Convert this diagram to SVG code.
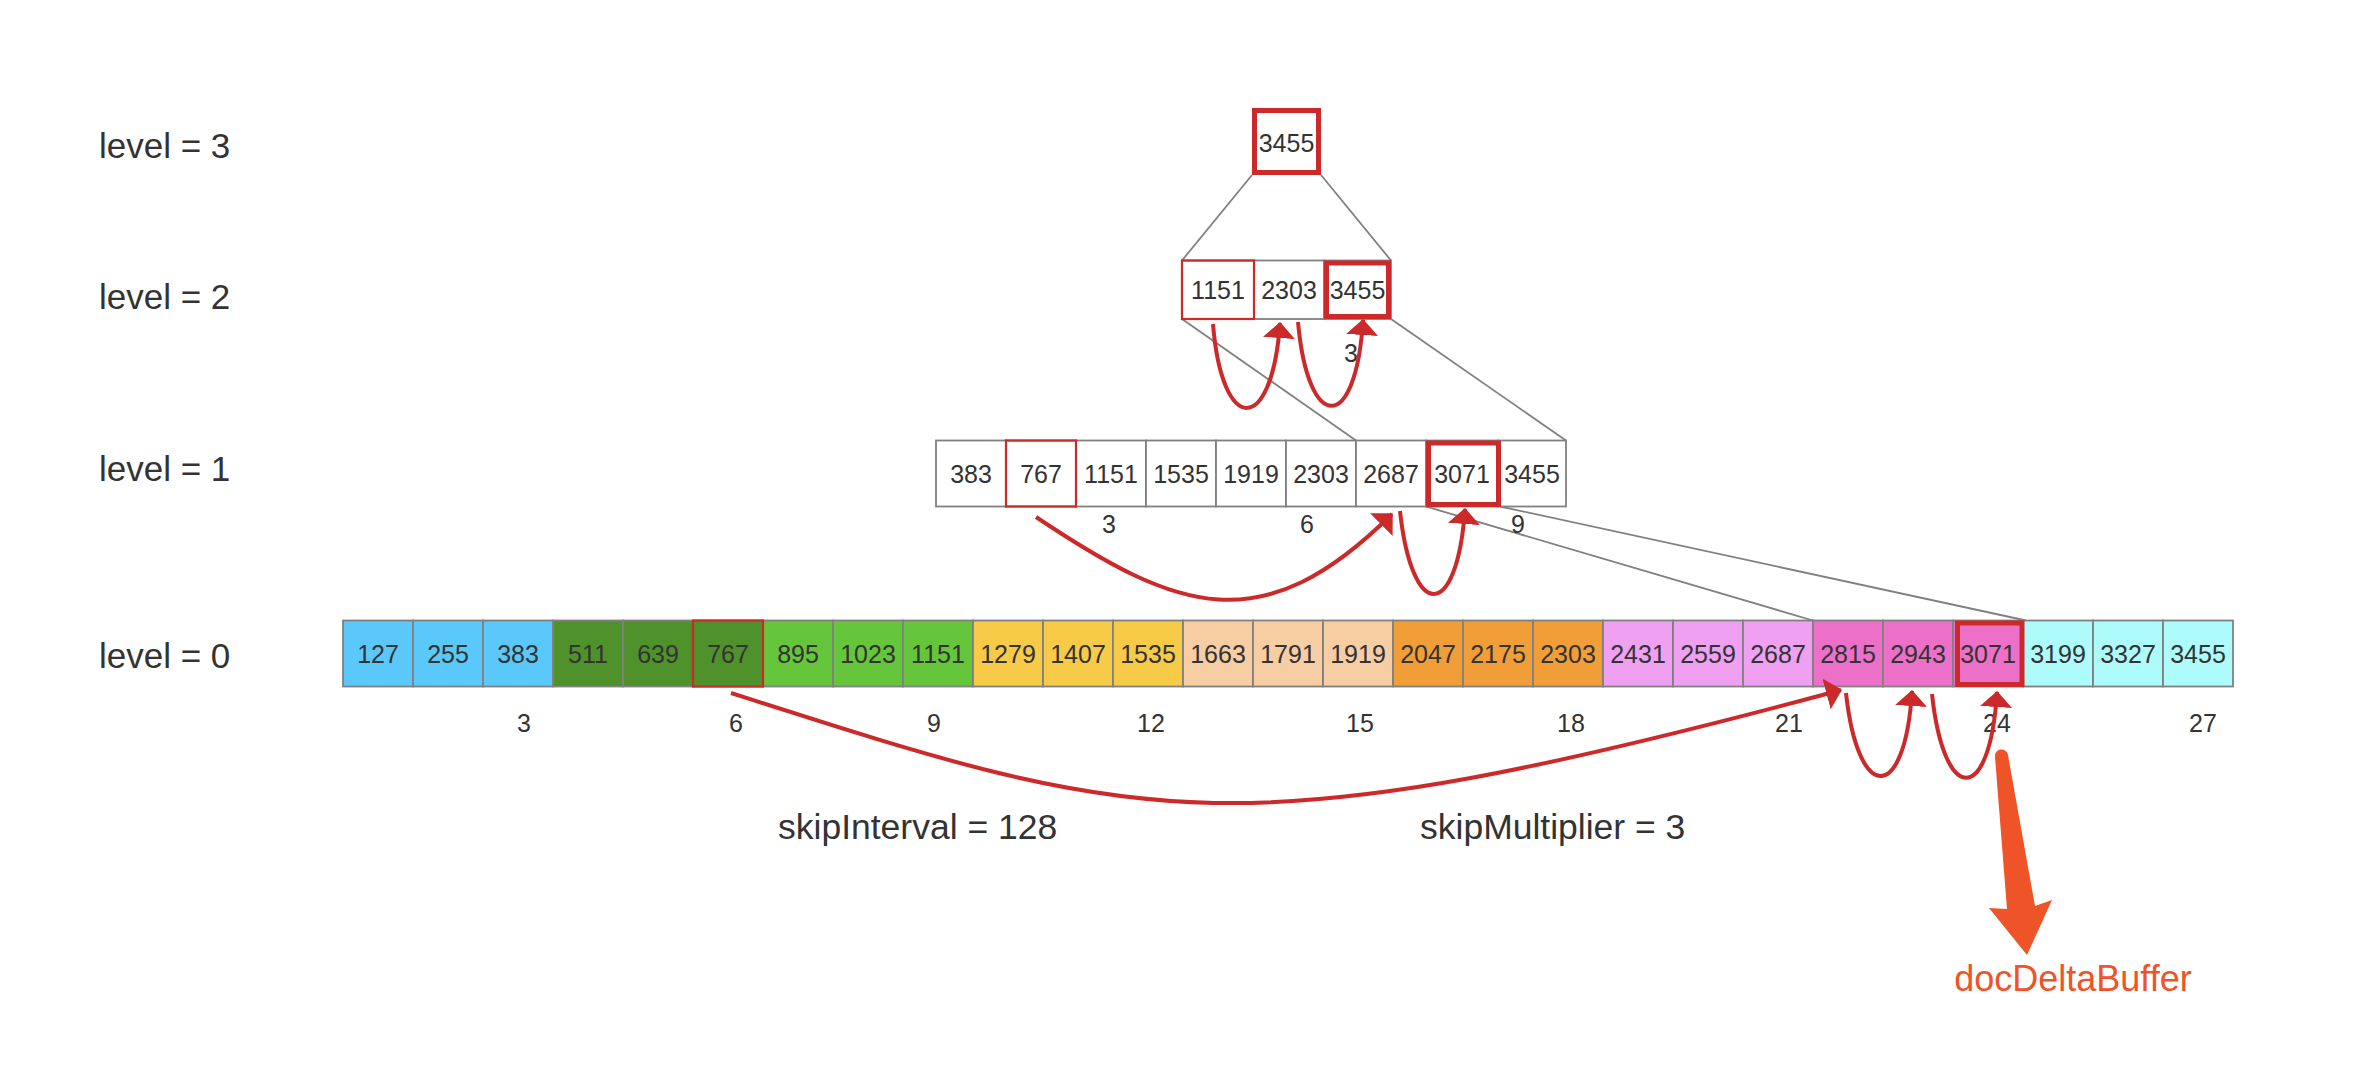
<svg xmlns="http://www.w3.org/2000/svg" width="2358" height="1068" viewBox="0 0 2358 1068">
<defs>
<style>
.t{font-family:"Liberation Sans",Arial,sans-serif;fill:#333333}
.cv{font-size:25px;text-anchor:middle}
.idx{font-size:25px;text-anchor:middle}
.lvl{font-size:35px}
.cap{font-size:35.5px}
.c{stroke:#808080;stroke-width:1.8}
.g{stroke:#808080;stroke-width:1.8;fill:none}
.rt{fill:none;stroke:#CC292B;stroke-width:2.2}
.rk{fill:none;stroke:#CC292B;stroke-width:5}
.arr{fill:none;stroke:#CC292B;stroke-width:4;marker-end:url(#ah)}
.blue{fill:#5AC8FA}.dg{fill:#4F922C}.gr{fill:#66C63B}.ye{fill:#F7CA47}.pe{fill:#F7CDA4}.or{fill:#F29E38}.vi{fill:#F0A0F1}.pk{fill:#EC70C7}.cy{fill:#AEFBFC}.wh{fill:#FFFFFF}
</style>
<marker id="ah" markerUnits="userSpaceOnUse" markerWidth="16" markerHeight="32" viewBox="0 -16 16 32" refX="15" refY="0" orient="auto">
<path d="M0,-16 L16,0 L0,16 z" fill="#CC292B"/>
</marker>
</defs>
<rect width="2358" height="1068" fill="#FFFFFF"/>

<g id="labels">
<text class="t lvl" x="99" y="158">level = 3</text>
<text class="t lvl" x="99" y="309">level = 2</text>
<text class="t lvl" x="99" y="481">level = 1</text>
<text class="t lvl" x="99" y="668">level = 0</text>
<text class="t cap" x="778" y="839">skipInterval = 128</text>
<text class="t cap" x="1420" y="839">skipMultiplier = 3</text>
</g>

<g id="tree-lines">
<line class="g" x1="1252" y1="175" x2="1182" y2="260.5"/>
<line class="g" x1="1321" y1="175" x2="1391" y2="260.5"/>
<line class="g" x1="1182" y1="319" x2="1356" y2="440.5"/>
<line class="g" x1="1391" y1="319" x2="1566" y2="440.5"/>
<line class="g" x1="1426" y1="506.5" x2="1813" y2="620.5"/>
<line class="g" x1="1500" y1="506.5" x2="2026" y2="620.5"/>
</g>

<g id="level3">
<rect class="wh" x="1254.5" y="110.5" width="64" height="62"/>
<rect class="rk" x="1254.5" y="110.5" width="64" height="62"/>
<text class="t cv" x="1286.5" y="152">3455</text>
</g>

<g id="level2">
<rect class="wh c" x="1182" y="260.5" width="72" height="58.5"/>
<rect class="wh c" x="1254" y="260.5" width="70" height="58.5"/>
<rect class="wh c" x="1324" y="260.5" width="67" height="58.5"/>
<rect class="rt" x="1182" y="260.5" width="72" height="58.5"/>
<rect class="rk" x="1326.5" y="263" width="62" height="53.5"/>
<text class="t cv" x="1218" y="299">1151</text>
<text class="t cv" x="1289" y="299">2303</text>
<text class="t cv" x="1357.5" y="299">3455</text>
<text class="t idx" x="1351" y="362">3</text>
</g>

<g id="level1">
<rect class="wh c" x="936" y="440.5" width="70" height="66"/>
<rect class="wh c" x="1006" y="440.5" width="70" height="66"/>
<rect class="wh c" x="1076" y="440.5" width="70" height="66"/>
<rect class="wh c" x="1146" y="440.5" width="70" height="66"/>
<rect class="wh c" x="1216" y="440.5" width="70" height="66"/>
<rect class="wh c" x="1286" y="440.5" width="70" height="66"/>
<rect class="wh c" x="1356" y="440.5" width="70" height="66"/>
<rect class="wh c" x="1426" y="440.5" width="72" height="66"/>
<rect class="wh c" x="1498" y="440.5" width="68" height="66"/>
<rect class="rt" x="1006" y="440.5" width="70" height="66"/>
<rect class="rk" x="1428.5" y="443" width="70" height="61.5"/>
<text class="t cv" x="971" y="483">383</text>
<text class="t cv" x="1041" y="483">767</text>
<text class="t cv" x="1111" y="483">1151</text>
<text class="t cv" x="1181" y="483">1535</text>
<text class="t cv" x="1251" y="483">1919</text>
<text class="t cv" x="1321" y="483">2303</text>
<text class="t cv" x="1391" y="483">2687</text>
<text class="t cv" x="1462" y="483">3071</text>
<text class="t cv" x="1532" y="483">3455</text>
<text class="t idx" x="1109" y="533">3</text>
<text class="t idx" x="1307" y="533">6</text>
<text class="t idx" x="1518" y="533">9</text>
</g>

<g id="level0">
<rect class="blue c" x="343" y="620.5" width="70" height="66"/>
<rect class="blue c" x="413" y="620.5" width="70" height="66"/>
<rect class="blue c" x="483" y="620.5" width="70" height="66"/>
<rect class="dg c" x="553" y="620.5" width="70" height="66"/>
<rect class="dg c" x="623" y="620.5" width="70" height="66"/>
<rect class="dg c" x="693" y="620.5" width="70" height="66"/>
<rect class="gr c" x="763" y="620.5" width="70" height="66"/>
<rect class="gr c" x="833" y="620.5" width="70" height="66"/>
<rect class="gr c" x="903" y="620.5" width="70" height="66"/>
<rect class="ye c" x="973" y="620.5" width="70" height="66"/>
<rect class="ye c" x="1043" y="620.5" width="70" height="66"/>
<rect class="ye c" x="1113" y="620.5" width="70" height="66"/>
<rect class="pe c" x="1183" y="620.5" width="70" height="66"/>
<rect class="pe c" x="1253" y="620.5" width="70" height="66"/>
<rect class="pe c" x="1323" y="620.5" width="70" height="66"/>
<rect class="or c" x="1393" y="620.5" width="70" height="66"/>
<rect class="or c" x="1463" y="620.5" width="70" height="66"/>
<rect class="or c" x="1533" y="620.5" width="70" height="66"/>
<rect class="vi c" x="1603" y="620.5" width="70" height="66"/>
<rect class="vi c" x="1673" y="620.5" width="70" height="66"/>
<rect class="vi c" x="1743" y="620.5" width="70" height="66"/>
<rect class="pk c" x="1813" y="620.5" width="70" height="66"/>
<rect class="pk c" x="1883" y="620.5" width="70" height="66"/>
<rect class="pk c" x="1953" y="620.5" width="70" height="66"/>
<rect class="cy c" x="2023" y="620.5" width="70" height="66"/>
<rect class="cy c" x="2093" y="620.5" width="70" height="66"/>
<rect class="cy c" x="2163" y="620.5" width="70" height="66"/>
<rect class="rt" x="693" y="620.5" width="70" height="66"/>
<rect class="rk" x="1957.5" y="623" width="64.5" height="61.5"/>
<text class="t cv" x="378" y="663">127</text>
<text class="t cv" x="448" y="663">255</text>
<text class="t cv" x="518" y="663">383</text>
<text class="t cv" x="588" y="663">511</text>
<text class="t cv" x="658" y="663">639</text>
<text class="t cv" x="728" y="663">767</text>
<text class="t cv" x="798" y="663">895</text>
<text class="t cv" x="868" y="663">1023</text>
<text class="t cv" x="938" y="663">1151</text>
<text class="t cv" x="1008" y="663">1279</text>
<text class="t cv" x="1078" y="663">1407</text>
<text class="t cv" x="1148" y="663">1535</text>
<text class="t cv" x="1218" y="663">1663</text>
<text class="t cv" x="1288" y="663">1791</text>
<text class="t cv" x="1358" y="663">1919</text>
<text class="t cv" x="1428" y="663">2047</text>
<text class="t cv" x="1498" y="663">2175</text>
<text class="t cv" x="1568" y="663">2303</text>
<text class="t cv" x="1638" y="663">2431</text>
<text class="t cv" x="1708" y="663">2559</text>
<text class="t cv" x="1778" y="663">2687</text>
<text class="t cv" x="1848" y="663">2815</text>
<text class="t cv" x="1918" y="663">2943</text>
<text class="t cv" x="1988" y="663">3071</text>
<text class="t cv" x="2058" y="663">3199</text>
<text class="t cv" x="2128" y="663">3327</text>
<text class="t cv" x="2198" y="663">3455</text>
<text class="t idx" x="524" y="732">3</text>
<text class="t idx" x="736" y="732">6</text>
<text class="t idx" x="934" y="732">9</text>
<text class="t idx" x="1151" y="732">12</text>
<text class="t idx" x="1360" y="732">15</text>
<text class="t idx" x="1571" y="732">18</text>
<text class="t idx" x="1789" y="732">21</text>
<text class="t idx" x="1997" y="732">24</text>
<text class="t idx" x="2203" y="732">27</text>
</g>

<g id="connectors">
<path class="arr" d="M1213,324 C1222,436 1272,436 1280,323"/>
<path class="arr" d="M1298,322 C1308,434 1356,434 1363,320"/>
<path class="arr" d="M1036,517 C1178,612 1262,643 1392,514"/>
<path class="arr" d="M1400,511 C1412,622 1457,622 1465,509"/>
<path class="arr" d="M731,693 C1143,825 1229,855 1841,690"/>
<path class="arr" d="M1846,693 C1858,804 1905,804 1912,691"/>
<path class="arr" d="M1932,694 C1944,806 1990,806 1997,692"/>
<path d="M1995,757 A6.5,6.5 0 0 1 2008,755 L2035,906 L2052,900 L2027,955 L1989,908 L2007,909 Z" fill="#EE5427"/>
</g>

<g id="output">
<text class="t" x="2073" y="991" font-size="36" text-anchor="middle" style="fill:#EE5427">docDeltaBuffer</text>
</g>
</svg>
